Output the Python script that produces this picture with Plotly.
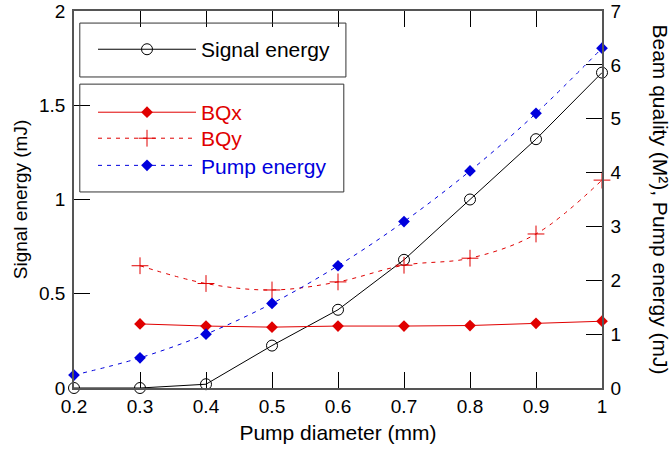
import plotly.graph_objects as go

pump_diameter = [0.2, 0.3, 0.4, 0.5, 0.6, 0.7, 0.8, 0.9, 1.0]
signal_energy = [0.0, 0.0, 0.02, 0.225, 0.415, 0.68, 1.0, 1.32, 1.673]
bq_diameter = [0.3, 0.4, 0.5, 0.6, 0.7, 0.8, 0.9, 1.0]
bqx = [1.19, 1.15, 1.13, 1.15, 1.15, 1.16, 1.2, 1.24]
bqy = [2.27, 1.94, 1.82, 1.97, 2.28, 2.41, 2.86, 3.86]
pump_energy = [0.24, 0.56, 1.0, 1.57, 2.27, 3.09, 4.03, 5.1, 6.31]

x_ticks = [0.2, 0.3, 0.4, 0.5, 0.6, 0.7, 0.8, 0.9, 1.0]
x_labels = ["0.2", "0.3", "0.4", "0.5", "0.6", "0.7", "0.8", "0.9", "1"]
y_ticks = [0, 0.5, 1, 1.5, 2]
y_labels = ["0", "0.5", "1", "1.5", "2"]
y2_ticks = [0, 1, 2, 3, 4, 5, 6, 7]

RED = "#e00000"
BLUE = "#0000dd"
FONT = "Liberation Sans, Arial, sans-serif"

fig = go.Figure()
fig.add_trace(go.Scatter(
    x=pump_diameter, y=signal_energy, name="Signal energy", mode="lines+markers",
    line=dict(color="black", width=1),
    marker=dict(symbol="circle-open", size=11, color="black", line=dict(width=1)),
    cliponaxis=False, legend="legend"))
fig.add_trace(go.Scatter(
    x=bq_diameter, y=bqx, name="<span style='color:#e00000'>BQx</span>", mode="lines+markers",
    line=dict(color=RED, width=1),
    marker=dict(symbol="diamond", size=9, color=RED),
    yaxis="y2", cliponaxis=False, legend="legend2"))
fig.add_trace(go.Scatter(
    x=bq_diameter, y=bqy, name="<span style='color:#e00000'>BQy</span>", mode="lines+markers",
    line=dict(color=RED, width=1, dash="4px,5px", shape="spline"),
    marker=dict(symbol="cross-thin-open", size=12, color=RED, line=dict(width=1, color=RED)),
    yaxis="y2", cliponaxis=False, legend="legend3"))
fig.add_trace(go.Scatter(
    x=pump_diameter, y=pump_energy, name="<span style='color:#0000dd'>Pump energy</span>", mode="lines+markers",
    line=dict(color=BLUE, width=1, dash="4px,5px", shape="spline"),
    marker=dict(symbol="diamond", size=9, color=BLUE),
    yaxis="y2", cliponaxis=False, legend="legend4"))

axis_common = dict(showgrid=False, zeroline=False, ticks="inside", ticklen=16,
                   tickcolor="black", linecolor="#555555", linewidth=1.5,
                   automargin=False,
                   tickfont=dict(size=19, color="black", family=FONT))

legend_common = dict(xanchor="left", yanchor="top", borderwidth=0,
                     bgcolor="rgba(0,0,0,0)", font=dict(size=21, family=FONT),
                     itemwidth=98, tracegroupgap=0)

fig.update_layout(
    width=670, height=450,
    margin=dict(l=74, r=68, t=11, b=62),
    plot_bgcolor="white", paper_bgcolor="white",
    font=dict(family=FONT, color="black"),
    showlegend=True,
    xaxis=dict(range=[0.2, 1.0], tickvals=x_ticks, ticktext=x_labels, mirror="ticks",
               showline=True,
               title=dict(text="Pump diameter (mm)", font=dict(size=21), standoff=10),
               **axis_common),
    yaxis=dict(range=[0, 2], tickvals=y_ticks, ticktext=y_labels, showline=True,
               ticklabelstandoff=3,
               title=dict(text="Signal energy (mJ)", font=dict(size=19), standoff=6),
               **axis_common),
    yaxis2=dict(range=[0, 7], tickvals=y2_ticks, overlaying="y", side="right",
                showline=True, ticklabelstandoff=3, **axis_common),
    legend=dict(x=0.036, y=0.952, **legend_common),
    legend2=dict(x=0.036, y=0.785, **legend_common),
    legend3=dict(x=0.036, y=0.716, **legend_common),
    legend4=dict(x=0.036, y=0.644, **legend_common),
    shapes=[
        dict(type="rect", xref="paper", yref="paper", x0=0.011, x1=0.515, y0=0.825, y1=0.968,
             line=dict(color="#333333", width=1), fillcolor="rgba(0,0,0,0)", layer="above"),
        dict(type="rect", xref="paper", yref="paper", x0=0.011, x1=0.511, y0=0.520, y1=0.806,
             line=dict(color="#333333", width=1), fillcolor="rgba(0,0,0,0)", layer="above"),
    ],
    annotations=[dict(text="Beam quality (M²), Pump energy (mJ)", textangle=90,
                      xref="paper", yref="paper", x=1.0, xshift=58, xanchor="center",
                      y=0.5, yanchor="middle",
                      showarrow=False, font=dict(size=21, family=FONT, color="black"))],
)

fig.write_html("out.html")
